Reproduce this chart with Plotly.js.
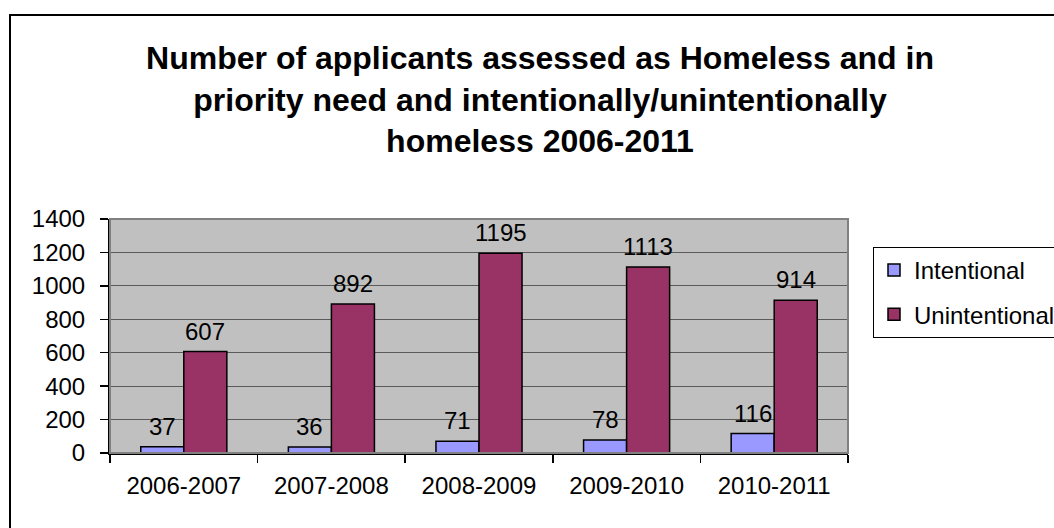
<!DOCTYPE html>
<html>
<head>
<meta charset="utf-8">
<script src="https://cdn.plot.ly/plotly-3.0.1.min.js"></script>
<style>
  html, body { margin: 0; padding: 0; background: #ffffff; overflow: hidden; }
  #chart { width: 1110px; height: 528px; }
</style>
</head>
<body>
<div id="chart"></div>
<script>
// Homeless applicants in priority need, by year and by intent
const years = ['2006-2007', '2007-2008', '2008-2009', '2009-2010', '2010-2011'];
const intentional = [37, 36, 71, 78, 116];
const unintentional = [607, 892, 1195, 1113, 914];
const seriesNames = ['Intentional', 'Unintentional'];
const yTicks = [0, 200, 400, 600, 800, 1000, 1200, 1400];

const FONT = 'Liberation Sans, Arial, sans-serif';
const FIG_W = 1110;   // wider than the window; the chart outline runs off the right edge
const FIG_H = 528;

function barTrace(name, values, color) {
  return {
    type: 'bar',
    name: name,
    legendgroup: name,
    x: years,
    y: values,
    marker: { color: color, line: { color: '#000000', width: 1.5 } },
    hoverinfo: 'x+y+name'
  };
}

const data = [
  barTrace(seriesNames[0], intentional, '#9999FF'),
  barTrace(seriesNames[1], unintentional, '#993366')
];

// value labels sitting above each bar of the group
const BAR_HALF_OFFSET = 21.5;
const labels = [];
[[intentional, -BAR_HALF_OFFSET], [unintentional, BAR_HALF_OFFSET]].forEach(([values, dx]) => {
  values.forEach((v, i) => {
    labels.push({
      x: years[i], y: v, xref: 'x', yref: 'y',
      text: String(v), showarrow: false,
      xanchor: 'center', yanchor: 'bottom',
      xshift: dx, yshift: 5,
      font: { family: FONT, size: 24, color: '#000000' }
    });
  });
});

const layout = {
  width: FIG_W,
  height: FIG_H,
  margin: { l: 110, r: FIG_W - 848, t: 219, b: 75, pad: 0 },
  paper_bgcolor: '#ffffff',
  plot_bgcolor: '#C0C0C0',
  font: { family: FONT, size: 24, color: '#000000' },
  title: {
    text: 'Number of applicants assessed as Homeless and in<br>priority need and intentionally/unintentionally<br>homeless 2006-2011',
    font: { family: FONT, size: 32, color: '#000000', weight: 'bold' },
    xref: 'container',
    x: 540 / FIG_W,
    xanchor: 'center',
    yref: 'container',
    y: 1 - 69 / FIG_H,
    yanchor: 'top'
  },
  barmode: 'group',
  bargap: 0.417,
  bargroupgap: 0,
  showlegend: true,
  legend: {
    x: (873 - 110) / 738,
    xanchor: 'left',
    y: (453 - 247) / 234,
    yanchor: 'top',
    bgcolor: '#ffffff',
    bordercolor: '#000000',
    borderwidth: 1,
    font: { family: FONT, size: 24, color: '#000000' },
    traceorder: 'grouped',
    tracegroupgap: 10,
    itemclick: false
  },
  annotations: labels,
  xaxis: {
    type: 'category',
    showgrid: false,
    showline: true,
    linecolor: '#000000',
    linewidth: 2,
    ticks: 'outside',
    tickson: 'boundaries',
    ticklen: 8,
    tickwidth: 1.5,
    tickcolor: '#000000',
    ticklabelstandoff: 10,
    tickfont: { family: FONT, size: 24, color: '#000000' },
    zeroline: false,
    fixedrange: true
  },
  yaxis: {
    range: [0, 1400],
    tickvals: yTicks,
    ticktext: yTicks.map(String),
    showgrid: true,
    gridcolor: '#5a5a5a',
    gridwidth: 1,
    showline: true,
    linecolor: '#000000',
    linewidth: 2,
    ticks: 'outside',
    ticklen: 8,
    tickwidth: 1.5,
    tickcolor: '#000000',
    ticklabelstandoff: 10,
    tickfont: { family: FONT, size: 24, color: '#000000' },
    zeroline: false,
    fixedrange: true
  },
  shapes: [
    // plot-area frame (top and right edges in grey)
    {
      type: 'rect', xref: 'paper', yref: 'paper', x0: 0, x1: 1, y0: 0, y1: 1,
      line: { color: '#808080', width: 2 }, fillcolor: 'rgba(0,0,0,0)', layer: 'above'
    },
    // chart-area outline
    {
      type: 'rect', xref: 'paper', yref: 'paper',
      x0: (10 - 110) / 738, x1: (1130 - 110) / 738,
      y0: (453 - 545) / 234, y1: (453 - 15) / 234,
      line: { color: '#000000', width: 2 }, fillcolor: 'rgba(0,0,0,0)', layer: 'above'
    }
  ]
};

Plotly.newPlot('chart', data, layout, { displayModeBar: false, staticPlot: true });
</script>
</body>
</html>
